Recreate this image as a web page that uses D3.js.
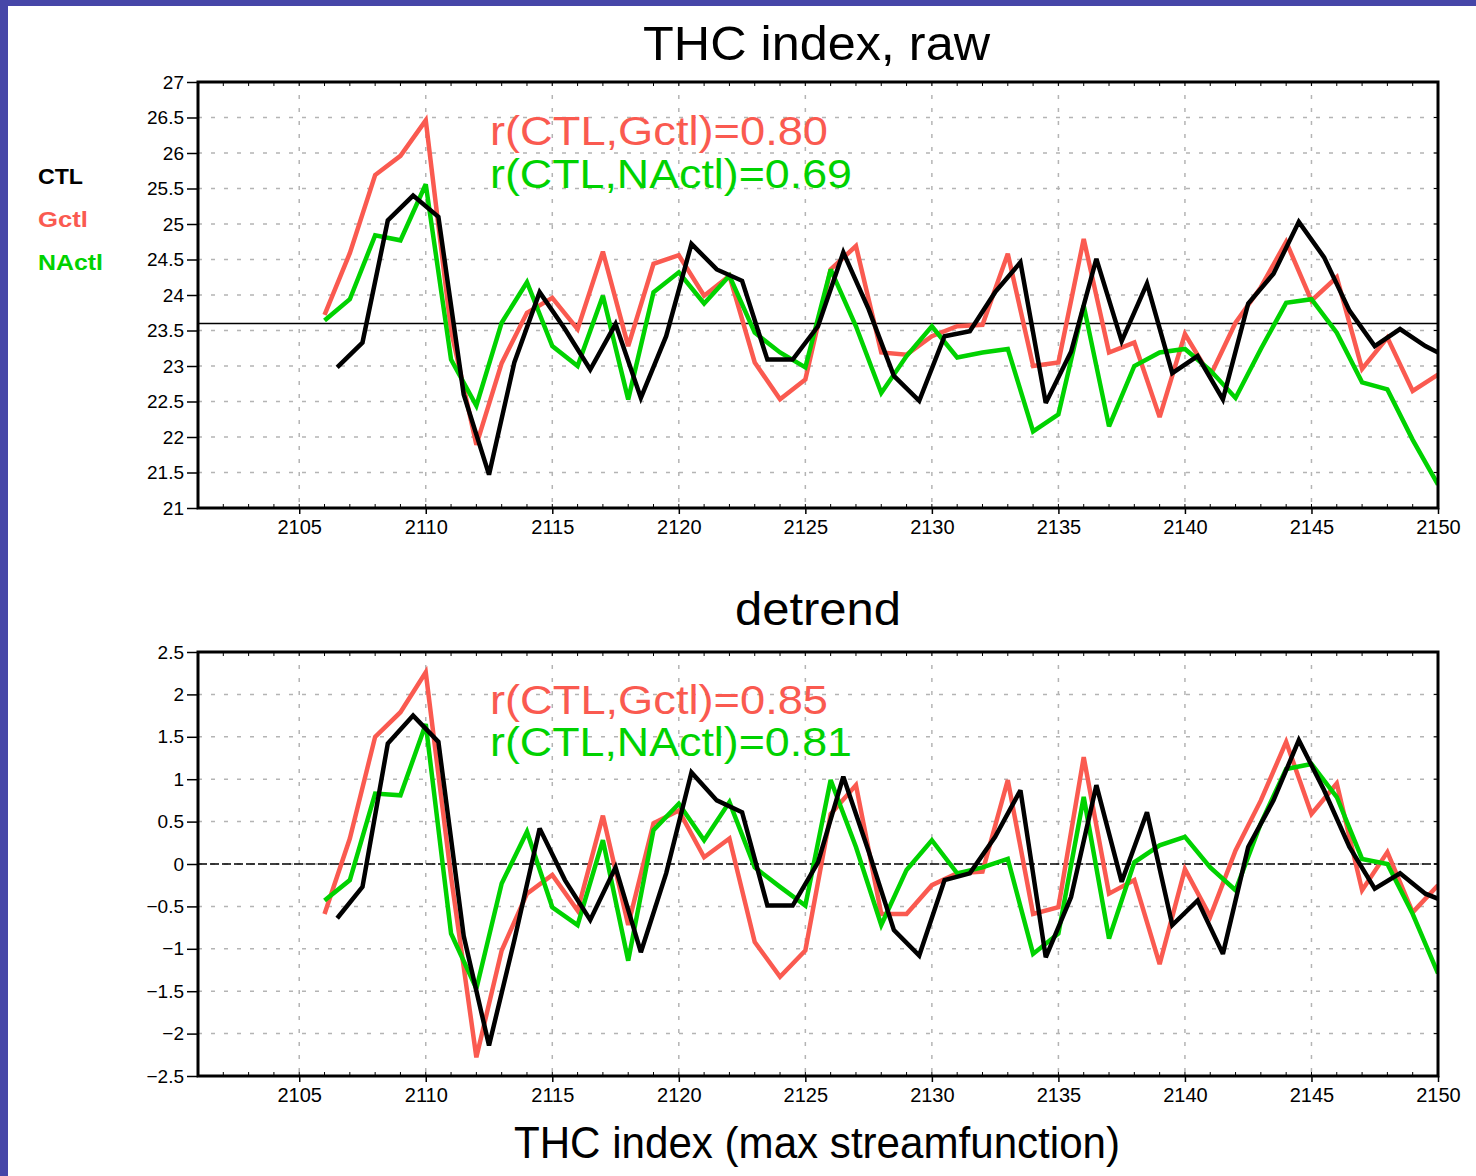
<!DOCTYPE html>
<html lang="en">
<head>
<meta charset="UTF-8">
<title>THC index</title>
<script src="https://d3js.org/d3.v7.min.js"></script>
<style>
  body { margin: 0; background: #fff; }
  text { font-family: "Liberation Sans", Arial, sans-serif; }
</style>
</head>
<body>
<div id="chart"></div>
<script>
// years: Gctl / NActl are on whole years, CTL is plotted half a year later
const years = d3.range(2106, 2151);
const ctlYears = d3.range(2106.5, 2151, 1);

// raw THC index
const ctlRaw = [22.98, 23.33, 25.05, 25.40, 25.10, 22.60, 21.47, 23.05, 24.04, 23.52,
  22.95, 23.59, 22.55, 23.42, 24.72, 24.36, 24.20, 23.09, 23.09, 23.56,
  24.60, 23.80, 22.86, 22.51, 23.42, 23.49, 24.04, 24.46, 22.48, 23.20,
  24.51, 23.35, 24.16, 22.90, 23.14, 22.53, 23.88, 24.30, 25.03, 24.53,
  23.78, 23.28, 23.52, 23.28, 23.10];
const gctlRaw = [23.72, 24.59, 25.69, 25.96, 26.46, 23.50, 21.89, 23.04, 23.75, 23.96,
  23.52, 24.61, 23.28, 24.44, 24.56, 23.99, 24.27, 23.05, 22.53, 22.81,
  24.36, 24.69, 23.19, 23.16, 23.42, 23.56, 23.58, 24.58, 23.00, 23.05,
  24.79, 23.19, 23.33, 22.28, 23.45, 22.86, 23.61, 24.11, 24.75, 23.92,
  24.25, 22.96, 23.40, 22.65, 22.88];
const nactlRaw = [23.64, 23.94, 24.84, 24.77, 25.56, 23.09, 22.44, 23.61, 24.18, 23.28,
  23.00, 23.99, 22.53, 24.04, 24.32, 23.88, 24.27, 23.47, 23.19, 22.98,
  24.36, 23.56, 22.62, 23.14, 23.56, 23.12, 23.19, 23.24, 22.08, 22.32,
  23.85, 22.15, 23.00, 23.19, 23.24, 22.94, 22.55, 23.24, 23.89, 23.94,
  23.47, 22.77, 22.67, 21.96, 21.33];
const rawRefLine = 23.6;

// detrended
const ctlDet = [-0.64, -0.27, 1.42, 1.75, 1.44, -0.85, -2.14, -0.90, 0.42, -0.19,
  -0.66, -0.04, -1.04, -0.11, 1.08, 0.75, 0.61, -0.49, -0.49, 0.02,
  1.03, 0.15, -0.78, -1.08, -0.19, -0.11, 0.32, 0.87, -1.10, -0.39,
  0.93, -0.21, 0.61, -0.72, -0.43, -1.06, 0.20, 0.75, 1.46, 0.87,
  0.20, -0.29, -0.11, -0.35, -0.47];
const gctlDet = [-0.59, 0.30, 1.50, 1.79, 2.26, -0.15, -2.28, -1.02, -0.35, -0.13,
  -0.55, 0.57, -0.72, 0.48, 0.63, 0.08, 0.30, -0.92, -1.33, -1.02,
  0.59, 0.93, -0.59, -0.59, -0.25, -0.11, -0.09, 0.99, -0.59, -0.51,
  1.26, -0.35, -0.19, -1.18, -0.06, -0.62, 0.16, 0.75, 1.44, 0.59,
  0.95, -0.31, 0.14, -0.57, -0.25];
const nactlDet = [-0.43, -0.19, 0.83, 0.81, 1.65, -0.82, -1.47, -0.23, 0.38, -0.51,
  -0.72, 0.28, -1.14, 0.40, 0.71, 0.28, 0.73, -0.04, -0.27, -0.49,
  0.99, 0.20, -0.72, -0.07, 0.28, -0.11, -0.04, 0.06, -1.06, -0.82,
  0.79, -0.88, 0.02, 0.22, 0.32, -0.04, -0.31, 0.48, 1.12, 1.18,
  0.79, 0.06, 0.00, -0.59, -1.29];

const xTicks = d3.range(2105, 2151, 5);
const rawTicks = d3.range(21, 27.01, 0.5);
const detTicks = d3.range(-2.5, 2.51, 0.5);

const corrRaw = ["r(CTL,Gctl)=0.80", "r(CTL,NActl)=0.69"];
const corrDet = ["r(CTL,Gctl)=0.85", "r(CTL,NActl)=0.81"];
const legendNames = ["CTL", "Gctl", "NActl"];

const colors = { ctl: "#000000", gctl: "#fa5a50", nactl: "#00d200" };

const svg = d3.select("#chart").append("svg")
  .attr("width", 1476)
  .attr("height", 1176);

svg.append("rect").attr("width", 1476).attr("height", 1176).attr("fill", "#fff");
// blue page border (top and left only)
svg.append("rect").attr("x", 0).attr("y", 0).attr("width", 1476).attr("height", 6).attr("fill", "#4646a8");
svg.append("rect").attr("x", 0).attr("y", 0).attr("width", 8).attr("height", 1176).attr("fill", "#4646a8");

const x = d3.scaleLinear().domain([2101, 2150]).range([198, 1438]);

function fmtTick(v) {
  return d3.format("")(Math.round(v * 10) / 10).replace("-", "\u2212");
}

function drawPanel(id, y, ticks, series, refValue, refDash, corr, corrY) {
  const g = svg.append("g");
  const [x0, x1] = x.range();
  const [yb, yt] = y.range();

  g.append("clipPath").attr("id", id)
    .append("rect").attr("x", x0).attr("y", yt).attr("width", x1 - x0).attr("height", yb - yt);

  // dotted grid
  g.selectAll(".hgrid").data(ticks.slice(1, -1)).enter().append("line")
    .attr("x1", x0).attr("x2", x1)
    .attr("y1", d => y(d)).attr("y2", d => y(d))
    .attr("stroke", "#b4b4b4").attr("stroke-width", 1.5)
    .attr("stroke-dasharray", "4,9");
  g.selectAll(".vgrid").data(xTicks.slice(0, -1)).enter().append("line")
    .attr("x1", d => x(d)).attr("x2", d => x(d))
    .attr("y1", yt).attr("y2", yb)
    .attr("stroke", "#b4b4b4").attr("stroke-width", 1.5)
    .attr("stroke-dasharray", "4,9");

  // reference line
  g.append("line")
    .attr("x1", x0).attr("x2", x1)
    .attr("y1", y(refValue)).attr("y2", y(refValue))
    .attr("stroke", "#000").attr("stroke-width", 1.5)
    .attr("stroke-dasharray", refDash);

  // series lines
  const line = d3.line().x(d => x(d[0])).y(d => y(d[1]));
  series.forEach(s => {
    g.append("path")
      .datum(d3.zip(s.xs, s.values))
      .attr("d", line)
      .attr("fill", "none")
      .attr("stroke", s.color)
      .attr("stroke-width", 4.5)
      .attr("stroke-linejoin", "miter")
      .attr("stroke-miterlimit", 3)
      .attr("clip-path", `url(#${id})`);
  });

  // frame with small inner ticks
  g.append("rect")
    .attr("x", x0).attr("y", yt).attr("width", x1 - x0).attr("height", yb - yt)
    .attr("fill", "none").attr("stroke", "#000").attr("stroke-width", 3);
  const minorX = d3.range(2102, 2150);
  g.selectAll(".mtop").data(minorX).enter().append("line")
    .attr("x1", d => x(d)).attr("x2", d => x(d))
    .attr("y1", yt).attr("y2", yt + 4)
    .attr("stroke", "#000").attr("stroke-width", 1);
  g.selectAll(".mbot").data(minorX).enter().append("line")
    .attr("x1", d => x(d)).attr("x2", d => x(d))
    .attr("y1", yb).attr("y2", yb - 4)
    .attr("stroke", "#000").attr("stroke-width", 1);
  g.selectAll(".mright").data(ticks).enter().append("line")
    .attr("x1", x1).attr("x2", x1 - 4)
    .attr("y1", d => y(d)).attr("y2", d => y(d))
    .attr("stroke", "#000").attr("stroke-width", 1);

  // axes
  const yAxis = g.append("g")
    .attr("transform", `translate(${x0},0)`)
    .call(d3.axisLeft(y).tickValues(ticks).tickSize(11).tickPadding(3).tickFormat(fmtTick));
  yAxis.select(".domain").remove();
  yAxis.selectAll("line").attr("stroke-width", 1.5);
  yAxis.selectAll("text").attr("font-size", 19).attr("fill", "#000")
    .style("font-family", "'Liberation Sans', Arial, sans-serif");

  const xAxis = g.append("g")
    .attr("transform", `translate(0,${yb})`)
    .call(d3.axisBottom(x).tickValues(xTicks).tickSize(6).tickPadding(6).tickFormat(d3.format("d")));
  xAxis.select(".domain").remove();
  xAxis.selectAll("line").attr("stroke-width", 1.5);
  xAxis.selectAll("text").attr("font-size", 20).attr("fill", "#000")
    .style("font-family", "'Liberation Sans', Arial, sans-serif");

  // correlation notes
  g.append("text").attr("x", 490).attr("y", corrY[0])
    .attr("font-size", 40).attr("fill", colors.gctl)
    .attr("textLength", 338).attr("lengthAdjust", "spacingAndGlyphs")
    .text(corr[0]);
  g.append("text").attr("x", 490).attr("y", corrY[1])
    .attr("font-size", 40).attr("fill", colors.nactl)
    .attr("textLength", 362).attr("lengthAdjust", "spacingAndGlyphs")
    .text(corr[1]);
}

const yRaw = d3.scaleLinear().domain([21, 27]).range([508, 82]);
const yDet = d3.scaleLinear().domain([-2.5, 2.5]).range([1076, 652]);

drawPanel("clipRaw", yRaw, rawTicks, [
  { xs: years, values: gctlRaw, color: colors.gctl },
  { xs: years, values: nactlRaw, color: colors.nactl },
  { xs: ctlYears, values: ctlRaw, color: colors.ctl }
], rawRefLine, null, corrRaw, [145, 188]);

drawPanel("clipDet", yDet, detTicks, [
  { xs: years, values: gctlDet, color: colors.gctl },
  { xs: years, values: nactlDet, color: colors.nactl },
  { xs: ctlYears, values: ctlDet, color: colors.ctl }
], 0, "9,3", corrDet, [714, 756]);

// titles
svg.append("text").attr("x", 643).attr("y", 60)
  .attr("font-size", 48).attr("textLength", 347).attr("lengthAdjust", "spacingAndGlyphs")
  .text("THC index, raw");
svg.append("text").attr("x", 735).attr("y", 625)
  .attr("font-size", 46).attr("textLength", 166).attr("lengthAdjust", "spacingAndGlyphs")
  .text("detrend");
svg.append("text").attr("x", 514).attr("y", 1158)
  .attr("font-size", 44).attr("textLength", 606).attr("lengthAdjust", "spacingAndGlyphs")
  .text("THC index (max streamfunction)");

// legend
const legendColors = [colors.ctl, colors.gctl, colors.nactl];
const legendWidths = [45, 50, 65];
svg.selectAll(".legend").data(legendNames).enter().append("text")
  .attr("x", 38)
  .attr("y", (d, i) => 184 + i * 43)
  .attr("font-size", 22).attr("font-weight", "bold")
  .attr("fill", (d, i) => legendColors[i])
  .attr("textLength", (d, i) => legendWidths[i]).attr("lengthAdjust", "spacingAndGlyphs")
  .text(d => d);
</script>
</body>
</html>
